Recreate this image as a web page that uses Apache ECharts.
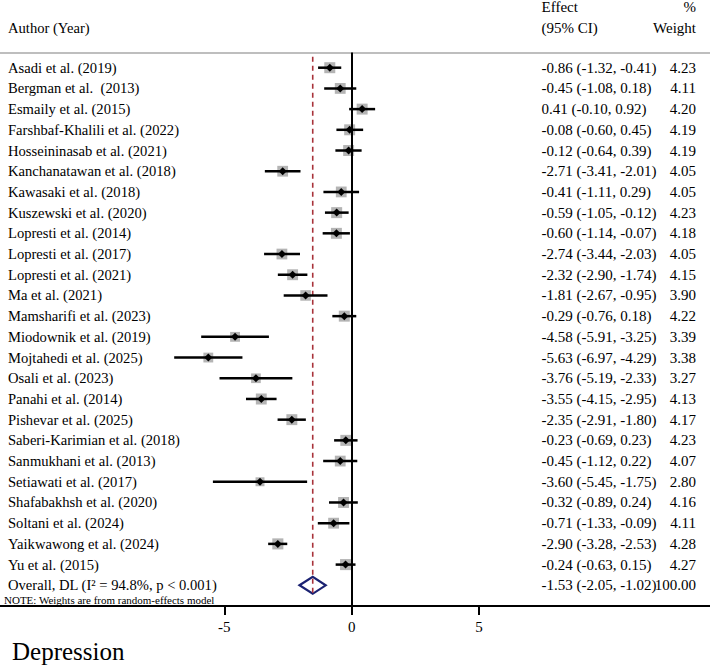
<!DOCTYPE html>
<html><head><meta charset="utf-8">
<script src="https://cdn.jsdelivr.net/npm/echarts@6/dist/echarts.min.js"></script>
<style>html,body{margin:0;padding:0;background:#fff}#c{width:710px;height:666px}</style>
</head><body><div id="c"></div>
<script>
const authors = [
  'Asadi et al. (2019)', 'Bergman et al. \u00a0(2013)', 'Esmaily et al. (2015)',
  'Farshbaf-Khalili et al. (2022)', 'Hosseininasab et al. (2021)', 'Kanchanatawan et al. (2018)',
  'Kawasaki et al. (2018)', 'Kuszewski et al. (2020)', 'Lopresti et al. (2014)',
  'Lopresti et al. (2017)', 'Lopresti et al. (2021)', 'Ma et al. (2021)',
  'Mamsharifi et al. (2023)', 'Miodownik et al. (2019)', 'Mojtahedi et al. (2025)',
  'Osali et al. (2023)', 'Panahi et al. (2014)', 'Pishevar et al. (2025)',
  'Saberi-Karimian et al. (2018)', 'Sanmukhani et al. (2013)', 'Setiawati et al. (2017)',
  'Shafabakhsh et al. (2020)', 'Soltani et al. (2024)', 'Yaikwawong et al. (2024)', 'Yu et al. (2015)'
];
const effects = [-0.86, -0.45, 0.41, -0.08, -0.12, -2.71, -0.41, -0.59, -0.60, -2.74, -2.32, -1.81, -0.29,
  -4.58, -5.63, -3.76, -3.55, -2.35, -0.23, -0.45, -3.60, -0.32, -0.71, -2.90, -0.24];
const ciLow = [-1.32, -1.08, -0.10, -0.60, -0.64, -3.41, -1.11, -1.05, -1.14, -3.44, -2.90, -2.67, -0.76,
  -5.91, -6.97, -5.19, -4.15, -2.91, -0.69, -1.12, -5.45, -0.89, -1.33, -3.28, -0.63];
const ciHigh = [-0.41, 0.18, 0.92, 0.45, 0.39, -2.01, 0.29, -0.12, -0.07, -2.03, -1.74, -0.95, 0.18,
  -3.25, -4.29, -2.33, -2.95, -1.80, 0.23, 0.22, -1.75, 0.24, -0.09, -2.53, 0.15];
const weights = [4.23, 4.11, 4.20, 4.19, 4.19, 4.05, 4.05, 4.23, 4.18, 4.05, 4.15, 3.90, 4.22,
  3.39, 3.38, 3.27, 4.13, 4.17, 4.23, 4.07, 2.80, 4.16, 4.11, 4.28, 4.27];

const overallLabel = 'Overall, DL (I\u00b2 = 94.8%, p < 0.001)';
const overallEffect = -1.53;
const overallLow = -2.05;
const overallHigh = -1.02;
const overallWeight = 100.00;

const xTicks = [-5, 0, 5];
const noteText = 'NOTE: Weights are from random-effects model';
const titleText = 'Depression';

const FONT = '"Liberation Serif", "Times New Roman", serif';
const LEFT_FONT = '14.6px ' + FONT;
const RIGHT_FONT = '15px ' + FONT;
const fmt = v => v.toFixed(2);
const ciText = (e, l, h) => fmt(e) + ' (' + fmt(l) + ', ' + fmt(h) + ')';

const studyData = authors.map((a, i) => [i, effects[i], ciLow[i], ciHigh[i], weights[i]]);
const overallRow = authors.length;

const chart = echarts.init(document.getElementById('c'), null, { renderer: 'svg' });

const textEl = (txt, x, y, align, font) => ({
  type: 'text', x: x, y: y,
  style: { text: txt, fill: '#000', font: font, textAlign: align || 'left', textVerticalAlign: 'middle', verticalAlign: 'middle' }
});

chart.setOption({
  animation: false,
  backgroundColor: '#fff',
  grid: { left: 0, right: 0, top: 52.5, bottom: 60 },
  xAxis: [{
    type: 'value', min: -13.81, max: 14.07, position: 'bottom',
    splitLine: { show: false },
    axisLine: { show: true, onZero: false, lineStyle: { color: '#000', width: 2 } },
    axisTick: { show: true, customValues: xTicks, length: 9, lineStyle: { color: '#000', width: 2 } },
    axisLabel: { show: true, customValues: xTicks, margin: 13, color: '#000', fontSize: 15, fontFamily: FONT }
  }, {
    type: 'value', min: -13.81, max: 14.07, position: 'top',
    splitLine: { show: false },
    axisLine: { show: true, onZero: false, lineStyle: { color: '#a8a8a8', width: 1.5 } },
    axisTick: { show: false }, axisLabel: { show: false }
  }],
  yAxis: {
    type: 'value', inverse: true, min: -0.734, max: 26.0, show: false
  },
  graphic: [
    textEl('Author (Year)', 8, 27.7, 'left', LEFT_FONT),
    textEl('Effect', 541.5, 6.7, 'left', RIGHT_FONT),
    textEl('(95% CI)', 541.5, 27.7, 'left', RIGHT_FONT),
    textEl('%', 696, 6.7, 'right', RIGHT_FONT),
    textEl('Weight', 696, 27.7, 'right', RIGHT_FONT),
    textEl(noteText, 4, 599.5, 'left', '11px ' + FONT),
    textEl(titleText, 12, 651.5, 'left', '25px ' + FONT)
  ],
  series: [{
    type: 'custom',
    coordinateSystem: 'cartesian2d',
    clip: false,
    data: studyData,
    encode: { x: [1, 2, 3], y: 0 },
    renderItem: function (params, api) {
      const i = api.value(0), est = api.value(1), lo = api.value(2), hi = api.value(3), w = api.value(4);
      const pE = api.coord([est, i]), pL = api.coord([lo, i]), pH = api.coord([hi, i]);
      const side = 11 * Math.sqrt(w / 4.23);
      const d = 4;
      return {
        type: 'group', children: [
          { type: 'rect', z2: 1, shape: { x: pE[0] - side / 2, y: pE[1] - side / 2, width: side, height: side }, style: { fill: '#b4b4b4' } },
          { type: 'line', z2: 2, shape: { x1: pL[0], y1: pL[1], x2: pH[0], y2: pH[1] }, style: { stroke: '#000', lineWidth: 2.5 } },
          { type: 'polygon', z2: 3, shape: { points: [[pE[0] - d, pE[1]], [pE[0], pE[1] - d], [pE[0] + d, pE[1]], [pE[0], pE[1] + d]] }, style: { fill: '#000' } },
          textEl(authors[params.dataIndex], 8, pE[1], 'left', LEFT_FONT),
          textEl(ciText(est, lo, hi), 541.5, pE[1], 'left', RIGHT_FONT),
          textEl(fmt(w), 696, pE[1], 'right', RIGHT_FONT)
        ]
      };
    },
    markLine: {
      silent: true, symbol: 'none', label: { show: false },
      lineStyle: { color: '#000', width: 2, type: 'solid' },
      data: [{ xAxis: 0 }]
    },
    z: 3
  }, {
    type: 'custom',
    coordinateSystem: 'cartesian2d',
    clip: false,
    data: [[overallRow, overallEffect, overallLow, overallHigh, overallWeight]],
    encode: { x: [1, 2, 3], y: 0 },
    renderItem: function (params, api) {
      const i = api.value(0), est = api.value(1), lo = api.value(2), hi = api.value(3), w = api.value(4);
      const pE = api.coord([est, i]), pL = api.coord([lo, i]), pH = api.coord([hi, i]);
      const top = api.coord([est, -0.53]);
      const hh = 8.5;
      return {
        type: 'group', children: [
          { type: 'polygon', shape: { points: [[pL[0], pE[1]], [pE[0], pE[1] - hh], [pH[0], pE[1]], [pE[0], pE[1] + hh]] }, style: { fill: 'none', stroke: '#1b2272', lineWidth: 2.2 } },
          { type: 'line', shape: { x1: pE[0], y1: top[1], x2: pE[0], y2: pE[1] + hh }, style: { stroke: '#a8323a', lineWidth: 1.6, lineDash: [5, 4] } },
          textEl(overallLabel, 8, pE[1], 'left', LEFT_FONT),
          textEl(ciText(est, lo, hi), 541.5, pE[1], 'left', RIGHT_FONT),
          textEl(fmt(w), 696, pE[1], 'right', RIGHT_FONT)
        ]
      };
    },
    z: 2
  }]
});
</script>
</body></html>
